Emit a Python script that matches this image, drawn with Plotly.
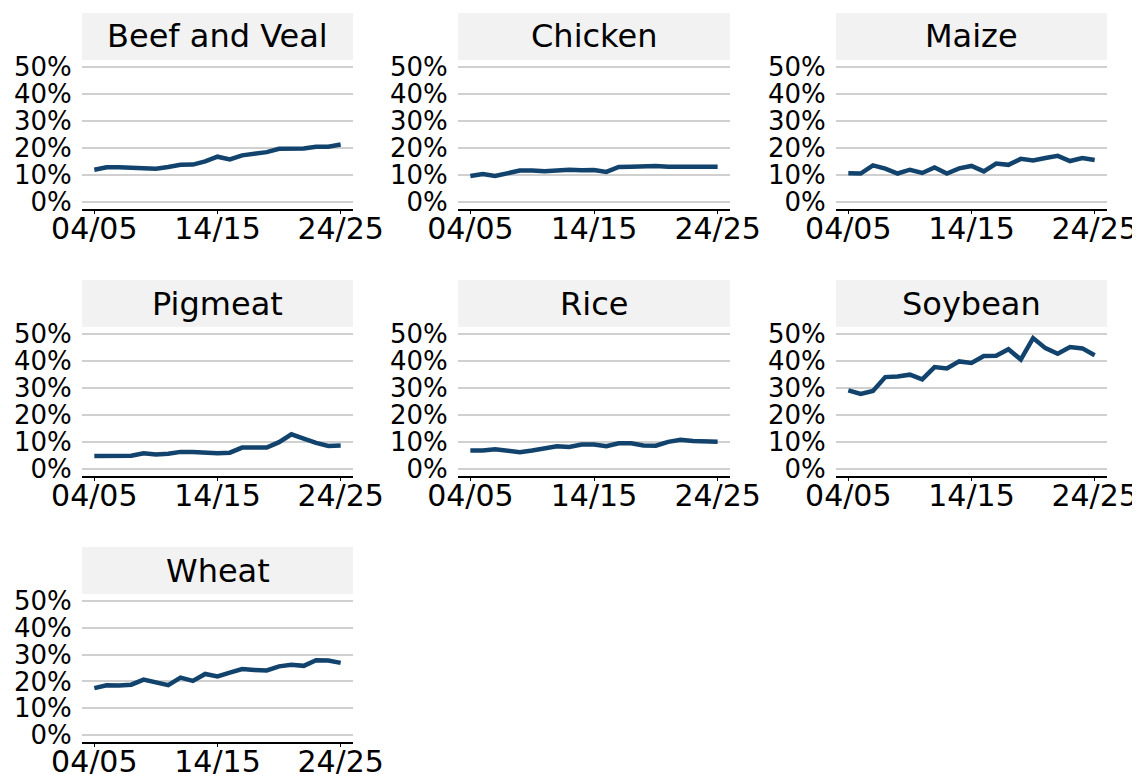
import plotly.graph_objects as go

years = ["04/05", "05/06", "06/07", "07/08", "08/09", "09/10", "10/11", "11/12", "12/13",
         "13/14", "14/15", "15/16", "16/17", "17/18", "18/19", "19/20", "20/21", "21/22",
         "22/23", "23/24", "24/25"]

beef_and_veal = [12.0, 12.9, 12.9, 12.8, 12.8, 12.4, 13.0, 13.8, 13.9, 15.1, 16.8, 15.8, 17.3,
                 17.9, 18.5, 19.7, 19.7, 19.8, 20.5, 20.5, 21.3]
chicken = [9.7, 10.4, 9.7, 10.7, 11.7, 11.7, 11.4, 11.7, 12.0, 11.8, 11.9, 11.2, 13.0, 13.1,
           13.4, 13.4, 13.1, 13.1, 13.3, 13.1, 13.1]
maize = [10.7, 10.6, 13.6, 12.4, 10.6, 12.0, 10.8, 12.8, 10.6, 12.5, 13.4, 11.4, 14.3, 13.8,
         16.0, 15.4, 16.3, 17.1, 15.2, 16.3, 15.6]
pigmeat = [4.9, 4.9, 5.0, 5.0, 5.9, 5.4, 5.7, 6.4, 6.4, 6.1, 5.9, 6.1, 8.0, 8.0, 8.0, 10.0,
           12.9, 11.3, 9.7, 8.6, 8.8]
rice = [6.9, 6.9, 7.4, 7.0, 6.3, 6.9, 7.7, 8.5, 8.2, 9.1, 9.1, 8.5, 9.6, 9.6, 8.8, 8.7, 10.1,
        10.9, 10.4, 10.3, 10.1]
soybean = [29.1, 27.8, 28.9, 34.0, 34.2, 34.9, 33.2, 37.7, 37.2, 39.8, 39.2, 41.8, 41.9, 44.3,
           40.5, 48.4, 44.7, 42.6, 45.1, 44.6, 42.1]
wheat = [17.5, 18.6, 18.5, 18.8, 20.7, 19.5, 18.6, 21.4, 20.2, 22.8, 21.9, 23.3, 24.6, 24.3,
         24.1, 25.6, 26.2, 25.8, 27.9, 27.8, 26.9]

panel_titles = ["Beef and Veal", "Chicken", "Maize", "Pigmeat", "Rice", "Soybean", "Wheat"]
panel_values = [beef_and_veal, chicken, maize, pigmeat, rice, soybean, wheat]

x_ticks = ["04/05", "14/15", "24/25"]
y_ticks = [0, 10, 20, 30, 40, 50]
y_tick_labels = ["0%", "10%", "20%", "30%", "40%", "50%"]

# page has an 8px body margin; figure placed at (8, 8)
OFF = 8
W, H = 1140 - OFF, 774 - OFF
col_px = [(82, 353), (458, 730), (836, 1107)]
row_px = [(13, 60, 209), (280, 327, 476), (547, 594, 742)]  # header top, plot top, plot bottom

LINE = "#12436D"
FONT = "DejaVu Sans"

fig = go.Figure()
shapes = []
annotations = []

for i, (title, vals) in enumerate(zip(panel_titles, panel_values)):
    r, c = divmod(i, 3)
    n = i + 1
    xa = "x" if n == 1 else f"x{n}"
    ya = "y" if n == 1 else f"y{n}"
    fig.add_trace(go.Scatter(x=years, y=vals, mode="lines",
                             line=dict(color=LINE, width=4.5),
                             xaxis=xa, yaxis=ya, showlegend=False,
                             hovertemplate="%{x}: %{y:.1f}%<extra></extra>"))
    x0, x1 = (v - OFF for v in col_px[c])
    ht, pt, pb = (v - OFF for v in row_px[r])
    xdom = [x0 / W, x1 / W]
    ydom = [1 - pb / H, 1 - pt / H]
    xkey = "xaxis" if n == 1 else f"xaxis{n}"
    ykey = "yaxis" if n == 1 else f"yaxis{n}"
    fig.update_layout({
        xkey: dict(domain=xdom, anchor=ya, type="category", categoryorder="array",
                   categoryarray=years, range=[-1, 21], tickvals=x_ticks, ticktext=x_ticks,
                   showgrid=False, zeroline=False, showline=True, linecolor="black",
                   linewidth=2, ticks="outside", ticklen=3, tickwidth=1.2, tickcolor="black",
                   ticklabelstandoff=-11,
                   tickfont=dict(family=FONT, size=30, color="black"), automargin=False,
                   fixedrange=True),
        ykey: dict(domain=ydom, anchor=xa, range=[-2.5, 52.5], tickvals=y_ticks,
                   ticktext=y_tick_labels, showgrid=True, gridcolor="#d0d0d0", gridwidth=2,
                   zeroline=False, showline=False, ticks="outside", ticklen=4,
                   tickcolor="rgba(0,0,0,0)",
                   tickfont=dict(family=FONT, size=26, color="black"), automargin=False,
                   fixedrange=True),
    })
    shapes.append(dict(type="rect", xref="paper", yref="paper",
                       x0=x0 / W, x1=x1 / W, y0=1 - pt / H, y1=1 - ht / H,
                       fillcolor="#f2f2f2", line=dict(width=0), layer="below"))
    annotations.append(dict(text=title, xref="paper", yref="paper",
                            x=(x0 + x1) / 2 / W, y=1 - (ht + pt) / 2 / H,
                            xanchor="center", yanchor="middle", showarrow=False,
                            font=dict(family=FONT, size=32, color="black")))

fig.update_layout(width=W, height=H, autosize=False,
                  margin=dict(l=0, r=0, t=0, b=0),
                  paper_bgcolor="white", plot_bgcolor="white",
                  shapes=shapes, annotations=annotations)

fig.write_html("out.html")
